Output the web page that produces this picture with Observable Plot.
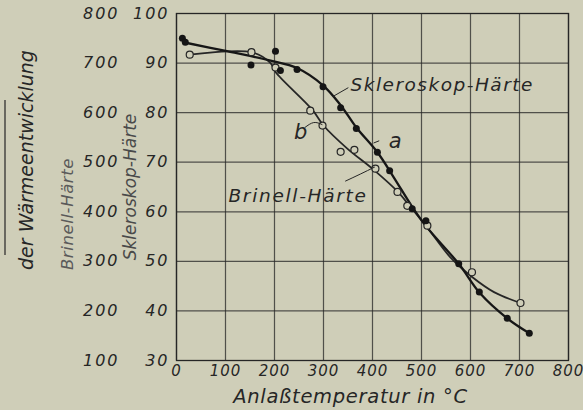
<!DOCTYPE html>
<html>
<head>
<meta charset="utf-8">
<script src="https://cdn.jsdelivr.net/npm/d3@7"></script>
<script src="https://cdn.jsdelivr.net/npm/@observablehq/plot@0.6"></script>
<style>
  html, body { margin: 0; padding: 0; background: #cfceb8; }
  #chart { width: 583px; height: 410px; overflow: hidden; }
</style>
</head>
<body>
<div id="chart"></div>
<script>
// Temperature ticks (x) and Skleroskop ticks (y)
const xTicks = [0, 100, 200, 300, 400, 500, 600, 700, 800];
const scleroTicks = [30, 40, 50, 60, 70, 80, 90, 100];
const brinellTicks = [100, 200, 300, 400, 500, 600, 700, 800];

// Skleroskop-Härte measured points (filled dots), curve a
const scleroPtsT = [12, 18, 152, 202, 212, 246, 299, 335, 367, 410, 435, 481, 509, 576, 618, 675, 720];
const scleroPtsS = [95, 94.2, 89.6, 92.4, 88.5, 88.7, 85.2, 81, 76.8, 72, 68.3, 60.6, 58.2, 49.5, 43.8, 38.5, 35.5];

// Brinell-Härte measured points (open circles), curve b (plotted on Skleroskop scale)
const brinellPtsT = [27, 153, 202, 273, 298, 335, 363, 406, 451, 471, 512, 603, 702];
const brinellPtsS = [91.7, 92.2, 89.1, 80.4, 77.4, 72.1, 72.5, 68.7, 64.0, 61.2, 57.2, 47.8, 41.6];

// Smoothed curve a (Skleroskop)
const scleroCurveT = [14, 103, 192, 246, 299, 335, 367, 410, 443, 481, 510, 576, 620, 675, 720];
const scleroCurveS = [94.2, 92.4, 90.5, 89, 85.5, 81.5, 77, 72, 67, 61, 57, 49.5, 43.5, 38.5, 35.5];

// Smoothed curve b (Brinell)
const brinellCurveT = [27, 153, 192, 202, 277, 300, 348, 402, 451, 478, 512, 559, 604, 648, 702];
const brinellCurveS = [91.7, 92.2, 90, 88.2, 80.6, 77.4, 72.8, 68.5, 64.1, 60.9, 56.8, 50.8, 46.8, 43.8, 41.6];

// Annotations (data coordinates)
const labelTexts = ["Skleroskop-Härte", "a", "b", "Brinell-Härte"];
const labelT = [355, 433, 240, 106];
const labelS = [85.6, 74.3, 76.0, 63.1];
const leaderA = [{T: 320, S: 83.3}, {T: 350, S: 85.0}];
const leaderAa = [{T: 403, S: 73.9}, {T: 413, S: 74.3}];
const leaderB = [{T: 262, S: 77.0}, {T: 280, S: 78.0}, {T: 297, S: 77.6}];
const leaderBr = [{T: 345, S: 66.2}, {T: 375, S: 67.6}, {T: 404, S: 69.0}];

const bg = "#cfceb8";
const ink = "#262626";
const font = "'DejaVu Sans', 'Liberation Sans', sans-serif";

const zip = (a, b) => a.map((v, i) => ({T: v, S: b[i]}));
const scleroPts = zip(scleroPtsT, scleroPtsS);
const brinellPts = zip(brinellPtsT, brinellPtsS);
const scleroCurve = zip(scleroCurveT, scleroCurveS);
const brinellCurve = zip(brinellCurveT, brinellCurveS);
const labels = labelTexts.map((t, i) => ({text: t, T: labelT[i], S: labelS[i]}));

const plot = Plot.plot({
  width: 583,
  height: 410,
  marginLeft: 176,
  marginRight: 15,
  marginTop: 13,
  marginBottom: 50,
  style: {
    background: bg,
    fontFamily: font,
    fontStyle: "italic",
    fontSize: "16px",
    color: ink
  },
  x: {domain: [0, 800]},
  y: {domain: [30, 100]},
  marks: [
    Plot.gridX(xTicks, {stroke: ink, strokeOpacity: 0.75, strokeWidth: 1.2}),
    Plot.gridY(scleroTicks, {stroke: ink, strokeOpacity: 0.75, strokeWidth: 1.2}),
    Plot.frame({stroke: ink, strokeWidth: 1.3}),
    Plot.axisX({ticks: xTicks, tickSize: 0, tickPadding: 5, label: null, fill: ink, fontSize: 15}),
    Plot.axisY({ticks: scleroTicks, tickSize: 0, tickPadding: 7, label: null, fill: ink, fontSize: 16}),
    Plot.axisY({ticks: scleroTicks, tickSize: 0, tickPadding: 57, label: null, fill: ink, fontSize: 16,
      tickFormat: (d) => String(brinellTicks[scleroTicks.indexOf(d)])}),
    Plot.line(brinellCurve, {x: "T", y: "S", curve: "catmull-rom", stroke: ink, strokeWidth: 1.8}),
    Plot.line(scleroCurve, {x: "T", y: "S", curve: "catmull-rom", stroke: "#161616", strokeWidth: 2.3}),
    Plot.dot(brinellPts, {x: "T", y: "S", r: 3.5, stroke: ink, strokeWidth: 1.2, fill: bg}),
    Plot.dot(scleroPts, {x: "T", y: "S", r: 3.5, fill: "#151515", stroke: "none"}),
    Plot.line(leaderA, {x: "T", y: "S", stroke: ink, strokeWidth: 1}),
    Plot.line(leaderAa, {x: "T", y: "S", stroke: ink, strokeWidth: 1}),
    Plot.line(leaderB, {x: "T", y: "S", curve: "natural", stroke: ink, strokeWidth: 1}),
    Plot.line(leaderBr, {x: "T", y: "S", curve: "natural", stroke: ink, strokeWidth: 1}),
    Plot.text(labels, {x: "T", y: "S", text: "text", textAnchor: "start", fill: ink,
      fontSize: (d) => d.text.length === 1 ? 21 : 18.5}),
    Plot.text(["Anlaßtemperatur in °C"], {frameAnchor: "bottom", textAnchor: "middle", lineAnchor: "middle",
      dx: -22, dy: 36, fill: ink, fontSize: 19.5}),
    Plot.text(["Skleroskop-Härte"], {frameAnchor: "left", textAnchor: "middle", lineAnchor: "middle",
      dx: -46, dy: 0, rotate: -90, fill: "#4a4a4a", fontSize: 17}),
    Plot.text(["Brinell-Härte"], {frameAnchor: "left", textAnchor: "middle", lineAnchor: "middle",
      dx: -109, dy: 27, rotate: -90, fill: "#5a5a5a", fontSize: 16.5}),
    Plot.text(["der Wärmeentwicklung"], {frameAnchor: "left", textAnchor: "middle", lineAnchor: "middle",
      dx: -150, dy: -27, rotate: -90, fill: ink, fontSize: 19})
  ]
});

document.getElementById("chart").appendChild(plot);

const svg = d3.select(plot);
// wide lettering of the tick numerals
svg.selectAll('[aria-label="y-axis tick label"] text').style("letter-spacing", "2px");
svg.selectAll('[aria-label="x-axis tick label"] text').style("letter-spacing", "1px");
// wide lettering of the in-plot labels and title
const spacing = {"Skleroskop-Härte": "1.5px", "Brinell-Härte": "1.7px", "Anlaßtemperatur in °C": "0.7px"};
svg.selectAll('[aria-label="text"] text').each(function () {
  const t = this.textContent;
  const rotated = (this.getAttribute("transform") || "").includes("rotate");
  if (!rotated && spacing[t]) d3.select(this).style("letter-spacing", spacing[t]);
  if (rotated && t === "Brinell-Härte") d3.select(this).style("letter-spacing", "0.6px");
});
// fraction bar of the cut-off left label
svg.append("line").attr("x1", 5).attr("x2", 5).attr("y1", 100).attr("y2", 255)
  .attr("stroke", ink).attr("stroke-width", 1.2);
</script>
</body>
</html>
